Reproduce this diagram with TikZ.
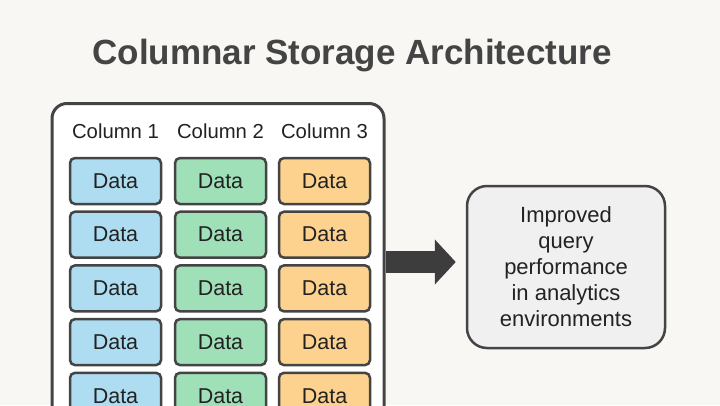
\documentclass[tikz,border=0pt]{standalone}
\usepackage{fontspec}
\setmainfont{Liberation Sans}
\usetikzlibrary{arrows.meta}
\definecolor{bgcol}{HTML}{F8F7F4}
\definecolor{edgecol}{HTML}{444444}
\definecolor{inkcol}{HTML}{222222}
\definecolor{bluecol}{HTML}{AEDCF0}
\definecolor{greencol}{HTML}{A0E0B8}
\definecolor{orangecol}{HTML}{FDD28E}
\definecolor{resultcol}{HTML}{F0F0F0}
\tikzset{
  cell/.style={draw=edgecol, line width=2.5pt, rounded corners=5pt,
    minimum width=91pt, minimum height=46pt, text=inkcol,
    font=\fontsize{21.5}{24}\selectfont},
  colhead/.style={text=inkcol, font=\fontsize{20.3}{24}\selectfont},
}
\begin{document}
\begin{tikzpicture}[x=1pt,y=-1pt]
        \fill [bgcol] (0,0) rectangle (720,405);
        \useasboundingbox (0,0) rectangle (720,405);
        \clip (0,0) rectangle (720,405);
        % title
        \node [text=edgecol, font=\fontsize{35}{40}\selectfont\bfseries] (title) at (352,56) {Columnar Storage Architecture};
        % storage frame
        \node [draw=edgecol, fill=white, line width=3pt, rounded corners=15pt,
          minimum width=332pt, minimum height=340pt, anchor=north] (store) at (218,102) {};
        \node [colhead] (head1) at (115.5,131) {Column 1};
        \node [colhead] (head2) at (220.5,131) {Column 2};
        \node [colhead] (head3) at (324.5,131) {Column 3};
        % data cells
        \foreach \r in {1,...,5} {
          \node [cell, fill=bluecol] (c1\r) at (115.5,127.3+53.7*\r) {Data};
          \node [cell, fill=greencol] (c2\r) at (220.5,127.3+53.7*\r) {Data};
          \node [cell, fill=orangecol] (c3\r) at (324.5,127.3+53.7*\r) {Data};
        }
        % result
        \node [draw=edgecol, fill=resultcol, line width=2.5pt, rounded corners=20pt,
          minimum width=198pt, minimum height=162pt, align=center, text=inkcol,
          font=\fontsize{22}{26}\selectfont] (result) at (566,267)
          {Improved\\query\\performance\\in analytics\\environments};
        \coordinate (arrowfrom) at (store.east |- 0,262);
        \draw [edgecol!90!black, line width=22pt, -{Triangle[length=21pt,width=44pt]}, shorten >=10pt]
          (arrowfrom) -- (result.west |- arrowfrom);
      \end{tikzpicture}
\end{document}
